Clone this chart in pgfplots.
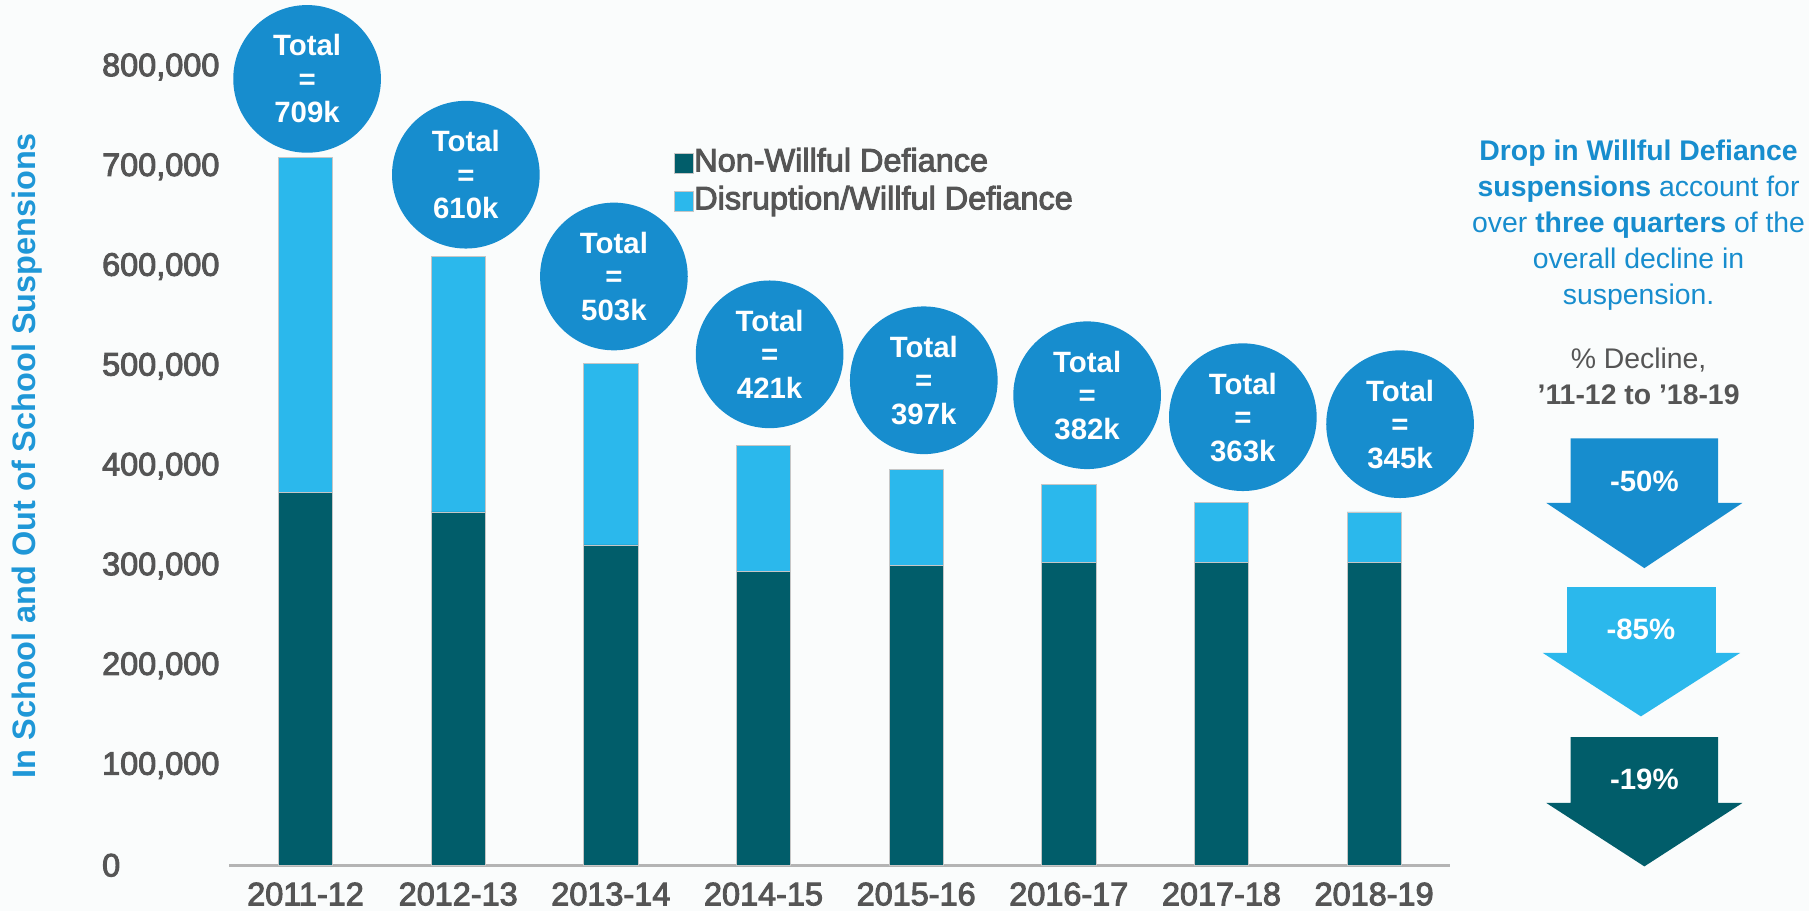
\documentclass[border=0pt]{standalone}
\usepackage{fontspec}
\setmainfont{Liberation Sans}
\newfontfamily\medfont{Liberation Sans}[FakeBold=3]
\usepackage{pgfplots}
\usepackage{pgfplotstable}
\pgfplotsset{compat=1.18}

\definecolor{nwdteal}{HTML}{015D6A}
\definecolor{disblue}{HTML}{2BB8EC}
\definecolor{circblue}{HTML}{178DCE}
\definecolor{labblue}{HTML}{1F97D7}
\definecolor{txtgrey}{HTML}{555555}
\definecolor{basegrey}{HTML}{B4B4B4}
\definecolor{bggrey}{HTML}{FAFCFC}

\tikzset{circ/.style={circle, fill=circblue, minimum size=2.56cm, inner sep=0pt, text=white,
    align=center, font=\bfseries\fontsize{14.5}{16.5}\selectfont}}

% suspensions by year (non-willful defiance, disruption/willful defiance)
\pgfplotstableread{
x nwd dis
0 374000 335000
1 354000 256000
2 321000 182000
3 294000 127000
4 300000 97000
5 303000 79000
6 303000 61000
7 303000 51000
}\susp

\begin{document}
\begin{tikzpicture}
\fill[bggrey] (0,0) rectangle (31.36cm,15.8cm);
\begin{axis}[
  at={(3.974cm,0.8cm)}, anchor=south west,
  scale only axis, width=21.17cm, height=13.84cm,
  xmin=-0.5, xmax=7.5, ymin=0, ymax=800000,
  clip=false, scaled y ticks=false,
  ybar stacked, bar width=0.94cm,
  axis x line*=bottom, axis y line*=left,
  x axis line style={draw=basegrey, line width=1.7pt},
  y axis line style={draw=none},
  major tick length=0pt,
  xtick={0,1,2,3,4,5,6,7},
  xticklabels={2011-12,2012-13,2013-14,2014-15,2015-16,2016-17,2017-18,2018-19},
  ytick={0,100000,200000,300000,400000,500000,600000,700000,800000},
  yticklabels={0,{100,000},{200,000},{300,000},{400,000},{500,000},{600,000},{700,000},{800,000}},
  tick label style={font=\medfont\fontsize{16}{19}\selectfont, text=txtgrey},
  xticklabel style={anchor=center, yshift=-0.5cm},
  yticklabel style={anchor=west, inner sep=0pt, xshift=-2.21cm},
  legend style={at={(axis cs:2.41,719000)}, anchor=north west, draw=none, fill=none,
    inner sep=0pt, row sep=0.13cm, font=\medfont\fontsize{16}{19}\selectfont, text=txtgrey,
    nodes={inner sep=0pt, text height=11.5pt, text depth=3.5pt},
    /tikz/every even column/.append style={column sep=0.1cm}},
  legend cell align=left,
  legend image code/.code={\fill[#1] (0cm,-0.17cm) rectangle (0.34cm,0.17cm);},
]
\addplot[fill=nwdteal, draw=gray!45, line width=0.4pt] table[x=x, y=nwd] {\susp};
\addlegendentry{Non-Willful Defiance}
\addplot[fill=disblue, draw=gray!45, line width=0.4pt] table[x=x, y=dis] {\susp};
\addlegendentry{Disruption/Willful Defiance}

\node[rotate=90, anchor=center, text=labblue, font=\bfseries\fontsize{16}{19}\selectfont]
  at (axis description cs:-0.1655,0.513) {In School and Out of School Suspensions};

\node[circ] at (axis cs:0.01,788000) {Total\\=\\709k};
\node[circ] at (axis cs:1.05,692000) {Total\\=\\610k};
\node[circ] at (axis cs:2.02,590000) {Total\\=\\503k};
\node[circ] at (axis cs:3.04,512000) {Total\\=\\421k};
\node[circ] at (axis cs:4.05,486000) {Total\\=\\397k};
\node[circ] at (axis cs:5.12,471000) {Total\\=\\382k};
\node[circ] at (axis cs:6.14,449000) {Total\\=\\363k};
\node[circ] at (axis cs:7.17,442000) {Total\\=\\345k};
\end{axis}

\begin{scope}[x=0.02cm, y=0.02cm]
\node[align=center, text=circblue, font=\fontsize{14}{17.7}\selectfont] at (1420,594.5)
  {\textbf{Drop in Willful Defiance}\\\textbf{suspensions} account for\\over \textbf{three quarters} of the\\overall decline in\\suspension.};
\node[align=center, text=txtgrey, font=\fontsize{14}{17.7}\selectfont] at (1420,463.5)
  {\% Decline,\\\textbf{’11-12 to ’18-19}};

\fill[circblue] (1361,410) -- (1489,410) -- (1489,354) -- (1510,354) -- (1425,297.5)
  -- (1340,354) -- (1361,354) -- cycle;
\fill[disblue] (1358,281) -- (1487,281) -- (1487,224) -- (1508,224) -- (1422,169)
  -- (1337,224) -- (1358,224) -- cycle;
\fill[nwdteal] (1361,151) -- (1489,151) -- (1489,94) -- (1510,94) -- (1425,39)
  -- (1340,94) -- (1361,94) -- cycle;
\node[text=white, font=\bfseries\fontsize{14.5}{17}\selectfont] at (1425,372.5) {-50\%};
\node[text=white, font=\bfseries\fontsize{14.5}{17}\selectfont] at (1422,244) {-85\%};
\node[text=white, font=\bfseries\fontsize{14.5}{17}\selectfont] at (1425,114) {-19\%};
\end{scope}

\pgfresetboundingbox
\path[use as bounding box] (0,0) rectangle (31.36cm,15.8cm);
\end{tikzpicture}
\end{document}
